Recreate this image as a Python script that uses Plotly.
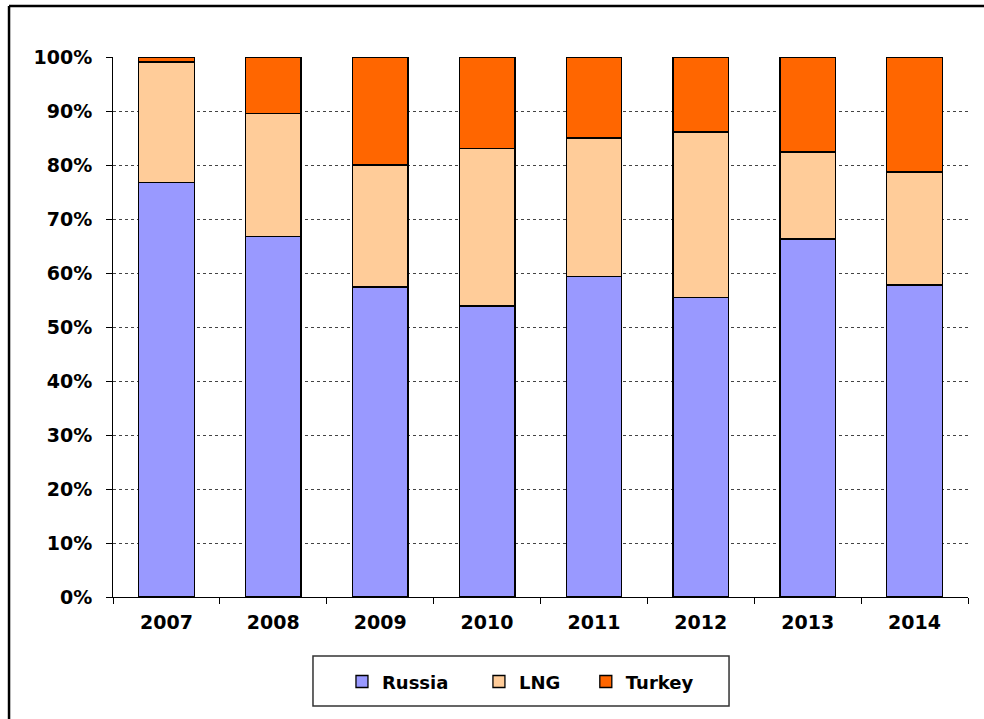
import plotly.graph_objects as go

years = ["2007", "2008", "2009", "2010", "2011", "2012", "2013", "2014"]
russia = [76.7, 66.7, 57.4, 53.9, 59.3, 55.4, 66.3, 57.8]
lng = [22.4, 22.9, 22.6, 29.2, 25.7, 30.7, 16.1, 20.9]
turkey = [round(100 - r - l, 1) for r, l in zip(russia, lng)]

series = [("Russia", russia, "#9999FF"), ("LNG", lng, "#FFCC99"), ("Turkey", turkey, "#FF6600")]
legend_ids = ["legend", "legend2", "legend3"]
legend_x = [0.2678, 0.428, 0.553]

FONT = "DejaVu Sans"
fig = go.Figure()
for (name, vals, col), lid in zip(series, legend_ids):
    fig.add_trace(go.Bar(
        x=years, y=[v / 100 for v in vals], name=name, legend=lid,
        marker=dict(color=col, line=dict(color="#000000", width=1.3)),
    ))

legend_font = dict(family=FONT, size=18, color="#000000", weight="bold")
legend_layout = {}
for lid, lx in zip(legend_ids, legend_x):
    legend_layout[lid] = dict(
        orientation="h", x=lx, xanchor="left", y=-0.157, yanchor="middle",
        font=legend_font, bgcolor="rgba(0,0,0,0)", borderwidth=0, itemwidth=30,
    )

fig.update_layout(
    barmode="stack",
    bargap=0.48,
    width=984, height=719,
    margin=dict(l=113, r=16, t=57, b=122),
    paper_bgcolor="white", plot_bgcolor="white",
    font=dict(family=FONT, size=19, color="#000000"),
    showlegend=True,
    shapes=[
        dict(type="rect", xref="paper", yref="paper", x0=0.2339, x1=0.7205, y0=-0.2019, y1=-0.1093,
             line=dict(color="#333333", width=1.5), fillcolor="rgba(0,0,0,0)", layer="below"),
        dict(type="line", xref="paper", yref="paper", x0=-0.1216, x1=-0.1216, y0=1.0945, y1=-0.25,
             line=dict(color="#000000", width=2.5)),
        dict(type="line", xref="paper", yref="paper", x0=-0.1216, x1=1.03, y0=1.0945, y1=1.0945,
             line=dict(color="#000000", width=2.5)),
    ],
    **legend_layout,
)

fig.update_xaxes(
    type="category", showline=True, linecolor="#000000", linewidth=1,
    ticks="outside", tickson="boundaries", ticklen=6, tickcolor="#000000",
    tickfont=dict(family=FONT, size=19, color="#000000", weight="bold"),
    showgrid=False, ticklabelstandoff=8,
)
fig.update_yaxes(
    range=[0, 1], dtick=0.1, tickformat=".0%",
    showline=True, linecolor="#000000", linewidth=1,
    ticks="outside", ticklen=6, tickcolor="#000000",
    tickfont=dict(family=FONT, size=19, color="#000000", weight="bold"),
    showgrid=True, gridcolor="#444444", gridwidth=1, griddash="dot",
    zeroline=False, ticklabelstandoff=10,
)

fig.write_html("out.html")
